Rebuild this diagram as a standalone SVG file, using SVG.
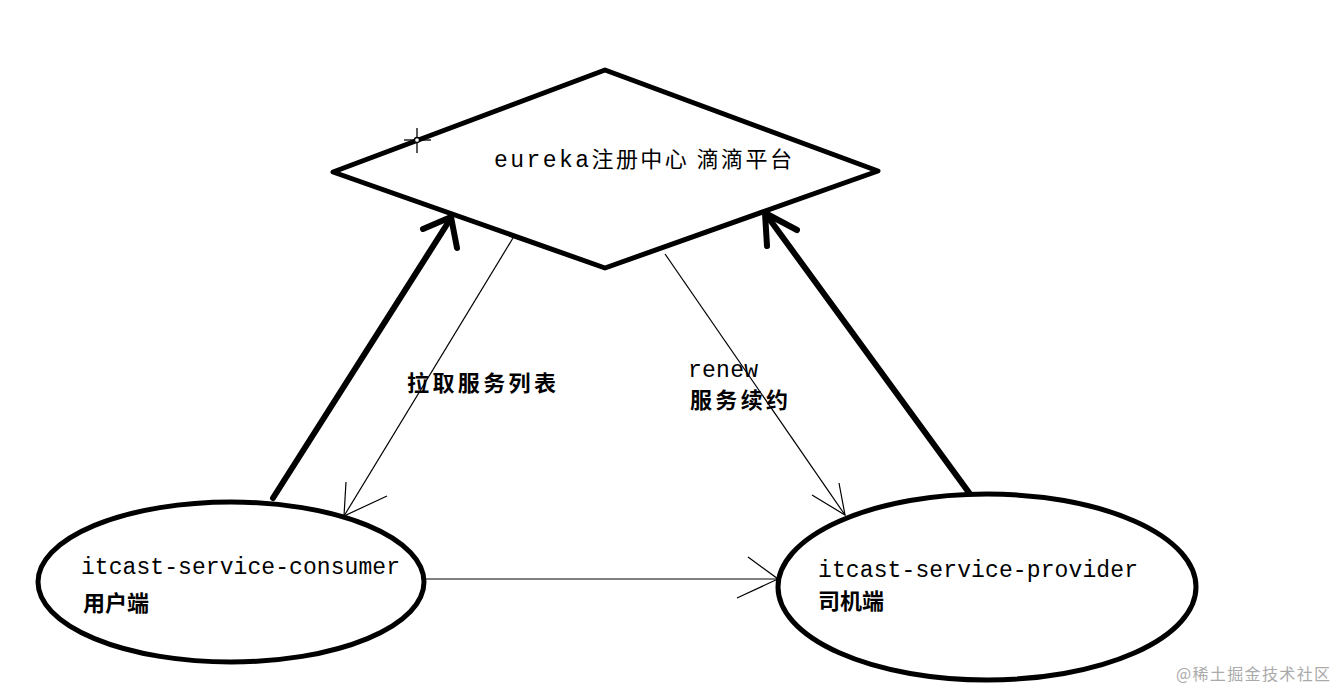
<svg xmlns="http://www.w3.org/2000/svg" width="1339" height="693" viewBox="0 0 1339 693">
<style>
.shape{fill:#fff;stroke:#000;stroke-width:5;stroke-linejoin:round}
.thick{fill:none;stroke:#000;stroke-width:6;stroke-linecap:round;stroke-linejoin:round}
.thin{fill:none;stroke:#000;stroke-width:1.2}
.mono{font-family:"Liberation Mono","Noto Sans CJK SC",monospace;font-size:23px;fill:#000}
.cjk{font-family:"Noto Sans CJK SC","Liberation Sans",sans-serif;font-size:22px;fill:#000;font-weight:bold}
.wm{font-family:"Noto Sans CJK SC","Liberation Sans",sans-serif;font-size:16px;fill:#aaa}
</style>
<rect width="1339" height="693" fill="#fff"/>
<g id="connectors">
  <line class="thick" x1="273" y1="498" x2="451" y2="218"/>
  <polyline class="thick" points="423,229 451,217 457,248"/>
  <line class="thick" x1="970" y1="494" x2="765" y2="213"/>
  <polyline class="thick" points="767,246 765,213 797,230"/>
  <line class="thin" x1="513" y1="238" x2="344" y2="516"/>
  <polyline class="thin" points="346,482 344,516 387,496"/>
  <line class="thin" x1="665" y1="254" x2="845" y2="515"/>
  <polyline class="thin" points="812,495 845,515 839,483"/>
  <line class="thin" x1="424" y1="579" x2="778" y2="579"/>
  <polyline class="thin" points="748,557 778,579 737,598"/>
</g>
<g id="eureka">
  <polygon class="shape" points="605,70 878,171 605,268 333,172"/>
  <g stroke="#000" stroke-width="1.3" fill="none">
    <line x1="417" y1="128" x2="417" y2="153"/>
    <line x1="404" y1="140" x2="431" y2="140"/>
    <circle cx="417" cy="140" r="2.5" fill="#fff"/>
  </g>
  <text class="mono" x="494" y="167" textLength="298" lengthAdjust="spacing">eureka<tspan font-family="'Noto Sans CJK SC',sans-serif" font-size="22">注册中心 滴滴平台</tspan></text>
</g>
<g id="consumer">
  <ellipse class="shape" cx="231" cy="582" rx="193" ry="80"/>
  <text class="mono" x="81" y="574" textLength="319" lengthAdjust="spacing">itcast-service-consumer</text>
  <text class="cjk" x="83" y="611">用户端</text>
</g>
<g id="provider">
  <ellipse class="shape" cx="987" cy="587" rx="209" ry="93"/>
  <text class="mono" x="818" y="577" textLength="320" lengthAdjust="spacing">itcast-service-provider</text>
  <text class="cjk" x="818" y="609">司机端</text>
</g>
<g id="labels">
  <text class="cjk" x="407" y="391" textLength="149" lengthAdjust="spacing">拉取服务列表</text>
  <text class="mono" x="688" y="377" textLength="70" lengthAdjust="spacing">renew</text>
  <text class="cjk" x="690" y="408" textLength="98" lengthAdjust="spacing">服务续约</text>
</g>
<text class="wm" x="1176" y="680" textLength="154" lengthAdjust="spacing">@稀土掘金技术社区</text>
</svg>
